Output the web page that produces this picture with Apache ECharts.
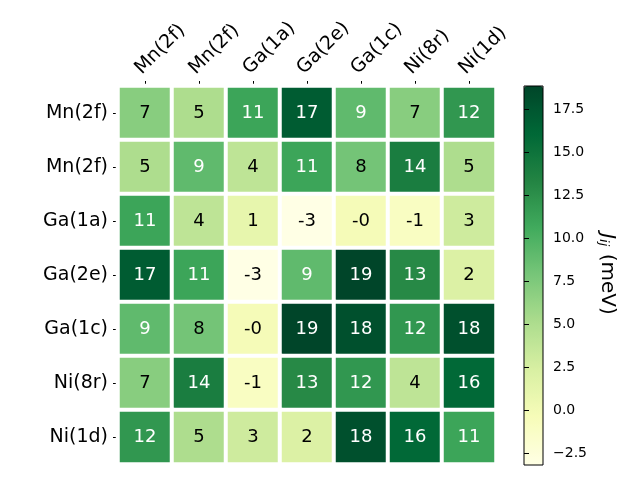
<!DOCTYPE html>
<html>
<head>
<meta charset="utf-8">
<script src="https://cdn.jsdelivr.net/npm/echarts@6/dist/echarts.min.js"></script>
<style>html,body{margin:0;padding:0;background:#fff;}#c{width:640px;height:480px;}</style>
</head>
<body>
<div id="c"></div>
<script>
const colLabels = ['Mn(2f)', 'Mn(2f)', 'Ga(1a)', 'Ga(2e)', 'Ga(1c)', 'Ni(8r)', 'Ni(1d)'];
const rowLabels = ['Mn(2f)', 'Mn(2f)', 'Ga(1a)', 'Ga(2e)', 'Ga(1c)', 'Ni(8r)', 'Ni(1d)'];
const row0 = [7, 5, 11, 17, 9, 7, 12];
const row1 = [5, 9, 4, 11, 8, 14, 5];
const row2 = [11, 4, 1, -3.2, -0.3, -1, 3];
const row3 = [17, 11, -3.2, 9, 18.84, 13, 2];
const row4 = [9, 8, -0.3, 18.84, 18, 12, 18];
const row5 = [7, 14, -1, 13, 12, 4, 16];
const row6 = [12, 5, 3, 2, 18, 16, 11];
const colorbarTicks = [-2.5, 0, 2.5, 5, 7.5, 10, 12.5, 15, 17.5];
const vMin = -3.2, vMax = 18.84;

const rows = [row0, row1, row2, row3, row4, row5, row6];
const data = [];
rows.forEach((r, yi) => r.forEach((v, xi) => {
  data.push({value: [xi, yi, v], label: {color: v > 8.5 ? '#ffffff' : '#000000'}});
}));

const FONT = 'DejaVu Sans';
const chart = echarts.init(document.getElementById('c'), null, {renderer: 'canvas'});
chart.setOption({
  animation: false,
  textStyle: {fontFamily: FONT},
  grid: [
    {left: 118, top: 86, width: 378, height: 378},
    {left: 524, top: 86, width: 19, height: 379, show: true, borderColor: '#000', borderWidth: 1,
     backgroundColor: 'transparent', z: 10}
  ],
  xAxis: [
    {type: 'category', data: colLabels, position: 'top', gridIndex: 0,
     axisLine: {show: false},
     axisTick: {show: true, alignWithLabel: true, length: 5, lineStyle: {color: '#000'}},
     axisLabel: {rotate: -45, fontSize: 19, color: '#000', margin: 8, fontFamily: FONT, verticalAlign: 'bottom'},
     splitLine: {show: false}},
    {type: 'value', gridIndex: 1, show: false, min: 0, max: 1}
  ],
  yAxis: [
    {type: 'category', data: rowLabels, inverse: true, gridIndex: 0,
     axisLine: {show: false},
     axisTick: {show: true, alignWithLabel: true, length: 5, lineStyle: {color: '#000'}},
     axisLabel: {fontSize: 19, color: '#000', margin: 10, fontFamily: FONT},
     splitLine: {show: false}},
    {type: 'value', gridIndex: 1, min: vMin, max: vMax, position: 'right', z: 10,
     axisLine: {show: false},
     splitLine: {show: false},
     axisTick: {show: true, length: 5, customValues: colorbarTicks, lineStyle: {color: '#000'}},
     axisLabel: {show: true, customValues: colorbarTicks, fontSize: 14, color: '#000', margin: 10,
       fontFamily: FONT, formatter: v => v.toFixed(1).replace('-', '\u2212')}}
  ],
  visualMap: {
    type: 'continuous', seriesIndex: 0, min: vMin, max: vMax, calculable: false,
    left: 524, top: 86, itemWidth: 19, itemHeight: 379, padding: 0, text: null, showLabel: false,
    hoverLink: false,
    inRange: {color: ['#ffffe5', '#f7fcb9', '#d9f0a3', '#addd8e', '#78c679', '#41ab5d', '#238443', '#006837', '#004529']}
  },
  series: [
    {type: 'heatmap', xAxisIndex: 0, yAxisIndex: 0, data: data,
     itemStyle: {borderColor: '#fff', borderWidth: 4},
     label: {show: true, fontSize: 18, fontFamily: FONT, formatter: p => p.value[2].toFixed(0)},
     emphasis: {disabled: true}},
    {type: 'line', xAxisIndex: 1, yAxisIndex: 1, data: [], silent: true}
  ],
  graphic: [{
    type: 'text', x: 607, y: 274, rotation: -Math.PI / 2,
    style: {
      text: '{j|J}{s|ij}{t| (meV)}', align: 'center', verticalAlign: 'middle', fill: '#000',
      rich: {
        j: {fontSize: 20, fontStyle: 'italic', fontFamily: FONT},
        s: {fontSize: 13, fontStyle: 'italic', fontFamily: FONT, verticalAlign: 'bottom', padding: [0, 1, 0, 0]},
        t: {fontSize: 20, fontFamily: FONT}
      }
    }
  }]
});
</script>
</body>
</html>
